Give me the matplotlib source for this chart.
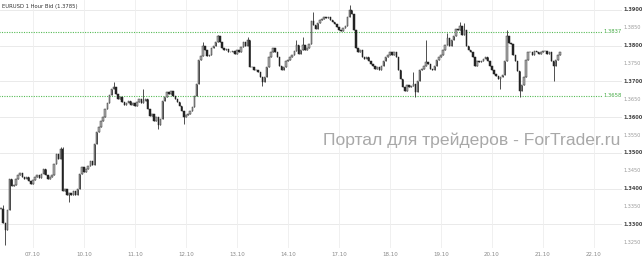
import matplotlib
matplotlib.use('Agg')
import matplotlib.pyplot as plt

# EURUSD hourly closes, bar by bar
closes = [
    1.3344, 1.3303, 1.3283, 1.3339, 1.3428, 1.3406, 1.3411, 1.3428, 1.3439, 1.3444, 1.3433, 1.3428, 1.3433, 1.3422, 1.3414, 1.3425,
    1.3433, 1.3439, 1.3431, 1.3442, 1.3456, 1.3439, 1.3428, 1.3433, 1.3439, 1.3469, 1.3497, 1.3483, 1.3511, 1.3394, 1.3400, 1.3383,
    1.3389, 1.3381, 1.3392, 1.3383, 1.3400, 1.3442, 1.3461, 1.3447,
    1.3456, 1.3464, 1.3478, 1.3467, 1.3525, 1.3558, 1.3572, 1.3589, 1.3600, 1.3622, 1.3639, 1.3661, 1.3678, 1.3683, 1.3664, 1.3650,
    1.3656, 1.3642, 1.3633, 1.3639, 1.3644, 1.3633, 1.3639, 1.3631,
    1.3642, 1.3650, 1.3639, 1.3644, 1.3650, 1.3622, 1.3603, 1.3608, 1.3589, 1.3600, 1.3578, 1.3594, 1.3644, 1.3656, 1.3669, 1.3664,
    1.3672, 1.3658, 1.3650, 1.3642, 1.3631, 1.3617, 1.3600, 1.3606,
    1.3608, 1.3617, 1.3628, 1.3658, 1.3692, 1.3761, 1.3772, 1.3800, 1.3789, 1.3772, 1.3775, 1.3794, 1.3800, 1.3811, 1.3828, 1.3811,
    1.3794, 1.3789, 1.3792, 1.3783, 1.3781, 1.3786, 1.3778, 1.3789,
    1.3783, 1.3797, 1.3811, 1.3800, 1.3817, 1.3739, 1.3739, 1.3733, 1.3731, 1.3725, 1.3711, 1.3697, 1.3711, 1.3739, 1.3767, 1.3781,
    1.3794, 1.3783, 1.3769, 1.3744, 1.3733, 1.3739, 1.3758, 1.3761,
    1.3767, 1.3775, 1.3786, 1.3803, 1.3778, 1.3789, 1.3803, 1.3789, 1.3794, 1.3806, 1.3869, 1.3858, 1.3847, 1.3864, 1.3872, 1.3875,
    1.3881, 1.3878, 1.3881, 1.3872, 1.3867, 1.3861, 1.3853, 1.3844,
    1.3842, 1.3850, 1.3855, 1.3881, 1.3900, 1.3889, 1.3844, 1.3794, 1.3783, 1.3789, 1.3769, 1.3764, 1.3767, 1.3756, 1.3750, 1.3744,
    1.3736, 1.3739, 1.3733, 1.3742, 1.3756, 1.3769, 1.3775, 1.3781,
    1.3775, 1.3781, 1.3769, 1.3733, 1.3706, 1.3683, 1.3672, 1.3689, 1.3683, 1.3686, 1.3694, 1.3669, 1.3700, 1.3731, 1.3736, 1.3744,
    1.3753, 1.3750, 1.3736, 1.3731, 1.3742, 1.3761, 1.3769, 1.3775,
    1.3789, 1.3803, 1.3822, 1.3800, 1.3817, 1.3828, 1.3847, 1.3844, 1.3855, 1.3831, 1.3844, 1.3800, 1.3789, 1.3781, 1.3769, 1.3744,
    1.3756, 1.3753, 1.3758, 1.3764, 1.3767, 1.3756, 1.3744, 1.3733,
    1.3722, 1.3714, 1.3706, 1.3711, 1.3719, 1.3756, 1.3828, 1.3808, 1.3806, 1.3775, 1.3756, 1.3728, 1.3672, 1.3689, 1.3711, 1.3761,
    1.3781, 1.3781, 1.3775, 1.3786, 1.3783, 1.3778, 1.3781, 1.3786,
    1.3786, 1.3778, 1.3781, 1.3756, 1.3742, 1.3761, 1.3775, 1.3783,
]

# wick extremes that stick out of the bodies
spike_highs = {1: 1.3353, 28: 1.3517, 29: 1.3517, 53: 1.3697, 67: 1.3678, 95: 1.3811, 102: 1.3831,
               116: 1.3825, 139: 1.3817, 142: 1.3825, 147: 1.3894, 164: 1.3914, 194: 1.3725,
               200: 1.3817, 210: 1.3836, 216: 1.3867, 218: 1.3864, 238: 1.3844}
spike_lows = {2: 1.3242, 32: 1.3364, 74: 1.3567, 86: 1.3581, 123: 1.3686, 195: 1.3656,
              235: 1.3678, 244: 1.3656, 260: 1.3700}

date_labels = ['07.10', '10.10', '11.10', '12.10', '13.10', '14.10',
               '17.10', '18.10', '19.10', '20.10', '21.10', '22.10']
date_bars = [15, 39, 63, 87, 111, 135, 159, 183, 207, 231, 255, 279]

levels = [1.3837, 1.3658]
price_ticks = [1.3250 + 0.005 * k for k in range(14)]

fig = plt.figure(figsize=(6.42, 2.60), dpi=100)
ax = fig.add_axes([0, 12 / 260, 622 / 642, 248 / 260])

# candles
opens = [closes[0]] + closes[:-1]
for i, (o, c) in enumerate(zip(opens, closes)):
    hi = max(o, c, spike_highs.get(i, 0))
    lo = min(o, c, spike_lows.get(i, 9))
    ax.vlines(i, lo, hi, color='#333333', linewidth=0.6, zorder=3)
    if c >= o:
        ax.bar(i, max(c - o, 0.00005), bottom=o, width=0.7, facecolor='#b0b0b0',
               edgecolor='#333333', linewidth=0.35, zorder=4)
    else:
        ax.bar(i, o - c, bottom=c, width=0.7, facecolor='#222222',
               edgecolor='#222222', linewidth=0.35, zorder=4)

# support / resistance levels
for lv in levels:
    ax.plot([-1, 283], [lv, lv], color='#55bb55', linestyle=(0, (1, 1.2)), linewidth=0.8, zorder=2)
    ax.text(292, lv + 0.0002, f'{lv:.4f}', color='#44aa44', fontsize=3.8, ha='right', va='center')

ax.set_xlim(-0.5, 292.2)
ax.set_ylim(1.32339, 1.39278)

for p in price_ticks:
    if round(p * 1000) % 10 == 0:
        ax.axhline(p, color='#e6e6e6', linewidth=0.6, zorder=0)
for b in date_bars:
    ax.axvline(b, color='#eeeeee', linewidth=0.6, zorder=0)

for p in price_ticks:
    major = round(p * 1000) % 10 == 0
    fig.text(623 / 642, ax.transData.transform((0, p))[1] / 260, f'{p:.4f}',
             fontsize=3.6, color='#444444' if major else '#999999',
             fontweight='bold' if major else 'normal', ha='left', va='center')

ax.set_xticks(date_bars)
ax.set_xticklabels(date_labels, fontsize=4, color='#888888')
ax.tick_params(axis='x', length=0, pad=3)
ax.set_yticks([])
for s in ax.spines.values():
    s.set_visible(False)

ax.text(0.004, 0.985, 'EURUSD 1 Hour Bid (1.3785)', transform=ax.transAxes,
        fontsize=3.8, color='#333333', ha='left', va='top')

fig.text(620 / 642, 1 - 140 / 260, 'Портал для трейдеров - ForTrader.ru',
         fontsize=12.6, color='#a8a8a8', family='Liberation Sans', ha='right', va='center')

fig.savefig('out.png', dpi=100)
